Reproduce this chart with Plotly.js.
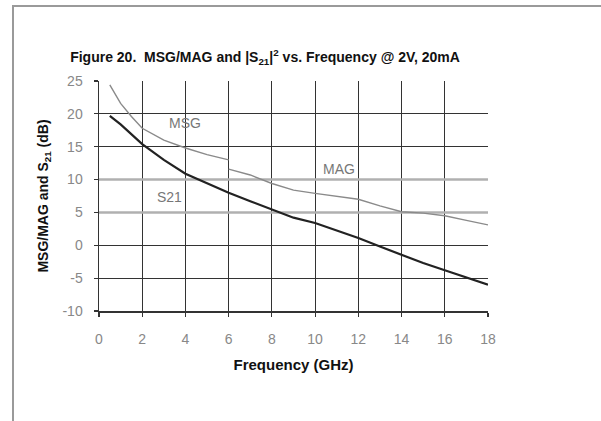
<!DOCTYPE html>
<html>
<head>
<meta charset="utf-8">
<script src="https://cdn.plot.ly/plotly-3.0.1.min.js"></script>
<style>
  html, body { margin: 0; padding: 0; background: #fff; overflow: hidden; }
  #wrap { position: relative; width: 601px; height: 421px; }
  #chart { width: 601px; height: 421px; }
  /* outer figure frame, open to the right and bottom */
  .edge { position: absolute; background: #9a9a9a; pointer-events: none; z-index: 10; }
  #edge-top { left: 12px; top: 5px; width: 589px; height: 2px; }
  #edge-left { left: 12px; top: 5px; width: 2px; height: 416px; }
</style>
</head>
<body>
<div id="wrap">
  <div id="chart"></div>
  <div class="edge" id="edge-top"></div>
  <div class="edge" id="edge-left"></div>
</div>
<script>
// Gain curves, 2 V / 20 mA bias
const msgFreq = [0.5, 1.0, 1.5, 2.0, 3.0, 4.0, 5.0, 6.0];
const msgGain = [24.4, 21.6, 19.6, 17.8, 16.0, 14.8, 13.8, 13.0];

const magFreq = [6.0, 7.0, 8.0, 9.0, 10.0, 11.0, 12.0, 13.0, 14.0, 15.0, 16.0, 17.0, 18.0];
const magGain = [11.6, 10.7, 9.4, 8.4, 7.9, 7.5, 7.0, 6.0, 5.1, 4.9, 4.5, 3.8, 3.1];

const s21Freq = [0.5, 1.0, 2.0, 3.0, 4.0, 5.0, 6.0, 7.0, 8.0, 9.0, 10.0, 11.0, 12.0, 13.0, 14.0, 15.0, 16.0, 17.0, 18.0];
const s21Gain = [19.7, 18.4, 15.4, 13.0, 10.9, 9.4, 8.0, 6.7, 5.4, 4.2, 3.4, 2.3, 1.1, -0.2, -1.5, -2.7, -3.8, -4.9, -6.0];

const xTicks = [0, 2, 4, 6, 8, 10, 12, 14, 16, 18];
const yTicks = [-10, -5, 0, 5, 10, 15, 20, 25];
const highlightY = [5, 10];

const FONT = 'Arial, "Liberation Sans", sans-serif';

const traces = [
  { x: msgFreq, y: msgGain, mode: 'lines', name: 'MSG',
    line: { color: '#8a8a8a', width: 1.4 }, hoverinfo: 'skip' },
  { x: magFreq, y: magGain, mode: 'lines', name: 'MAG',
    line: { color: '#8a8a8a', width: 1.4 }, hoverinfo: 'skip' },
  { x: s21Freq, y: s21Gain, mode: 'lines', name: 'S21',
    line: { color: '#222', width: 2.2 }, hoverinfo: 'skip' }
];

// lighter reference lines at 5 dB and 10 dB, drawn over the grid
const shapes = highlightY.map(v => ({
  type: 'line', xref: 'x', yref: 'y', x0: 0, x1: 18, y0: v, y1: v,
  line: { color: '#b0b0b0', width: 2.5 }, layer: 'between'
}));

const layout = {
  width: 601, height: 421,
  margin: { l: 99, r: 113, t: 81, b: 110 },
  paper_bgcolor: '#fff', plot_bgcolor: '#fff',
  showlegend: false,
  font: { family: FONT, color: '#000' },
  title: {
    text: '<b>Figure 20.  MSG/MAG and |S<sub>21</sub>|<sup>2</sup> vs. Frequency @ 2V, 20mA</b>',
    font: { family: FONT, size: 14, color: '#111' },
    xref: 'container', x: 0.441, xanchor: 'center',
    yref: 'container', y: 0.865, yanchor: 'middle'
  },
  xaxis: {
    range: [0, 18], tickvals: xTicks, ticktext: xTicks.map(String),
    showgrid: true, gridcolor: '#333', gridwidth: 1.2,
    zeroline: false, showline: true, linecolor: '#333', linewidth: 2,
    mirror: false,
    ticks: 'outside', ticklen: 4, tickcolor: '#333', tickwidth: 1.2,
    ticklabelstandoff: 10,
    tickfont: { family: FONT, size: 14, color: '#888' },
    title: { text: '<b>Frequency (GHz)</b>', font: { family: FONT, size: 15, color: '#111' }, standoff: 14 },
    automargin: false
  },
  yaxis: {
    range: [-10, 25], tickvals: yTicks, ticktext: yTicks.map(String),
    showgrid: true, gridcolor: '#333', gridwidth: 1.2,
    zeroline: false, showline: true, linecolor: '#333', linewidth: 1.5,
    ticks: 'outside', ticklen: 4, tickcolor: '#333', tickwidth: 1.2,
    ticklabelstandoff: 8,
    tickfont: { family: FONT, size: 14, color: '#888' },
    title: { text: '<b>MSG/MAG and S<sub>21</sub> (dB)</b>', font: { family: FONT, size: 14, color: '#111' }, standoff: 10 },
    automargin: true
  },
  shapes: shapes,
  annotations: [
    { x: 3.97, y: 18.6, xref: 'x', yref: 'y', text: 'MSG', showarrow: false,
      font: { family: FONT, size: 14, color: '#777' } },
    { x: 11.1, y: 11.6, xref: 'x', yref: 'y', text: 'MAG', showarrow: false,
      font: { family: FONT, size: 14, color: '#777' } },
    { x: 3.28, y: 7.4, xref: 'x', yref: 'y', text: 'S21', showarrow: false,
      font: { family: FONT, size: 14, color: '#777' } }
  ]
};

Plotly.newPlot('chart', traces, layout, { displayModeBar: false, staticPlot: true });
</script>
</body>
</html>
